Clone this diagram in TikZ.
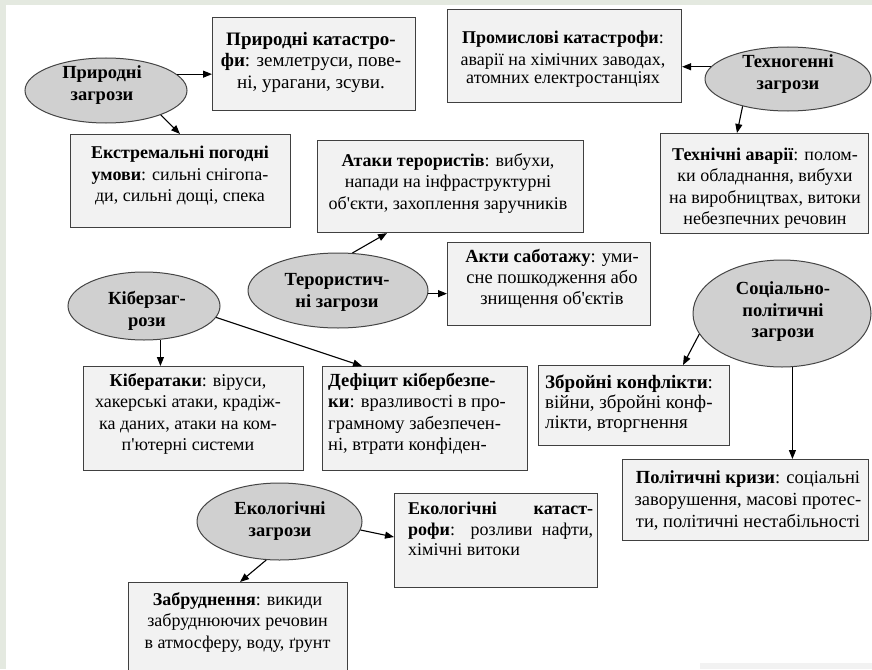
\documentclass[tikz,border=0pt]{standalone}
\usepackage{fontspec}
\setmainfont{Liberation Serif}
\usetikzlibrary{shapes.geometric,arrows.meta}
\definecolor{boxfill}{HTML}{F2F2F2}
\definecolor{boxline}{HTML}{404040}
\definecolor{ovalfill}{HTML}{D0D0D0}
\definecolor{ovalline}{HTML}{454545}
\definecolor{strip}{HTML}{E4E9E0}
\newcommand{\apos}{\textquotesingle}
\begin{document}
\begin{tikzpicture}[x=1pt,y=-1pt,
  box/.style={draw=boxline, fill=boxfill, line width=1.1pt, rectangle, inner sep=0, anchor=north west},
  oval/.style={draw=ovalline, fill=ovalfill, line width=1pt, ellipse, inner sep=0},
  txt/.style={align=center, inner sep=0, text=black, font=\fontsize{18}{21.5}\selectfont},
  otxt/.style={txt, font=\fontsize{18.5}{22}\selectfont\bfseries},
  link/.style={-{Triangle[length=9pt,width=7pt]}, line width=1.1pt, black}
]
\useasboundingbox (0,0) rectangle (872,669);
\fill[white] (0,0) rectangle (872,669);
% page frame strips
\fill[strip] (0,0) rectangle (872,5);
\fill[strip] (0,0) rectangle (6,669);
\fill[black!5] (700,663) rectangle (872,669);

% ---- natural threats
\node[oval, minimum width=162pt, minimum height=65pt] (e1) at (106,90.5) {};
\node[otxt] (l1) at (102,85) {Природні\\загрози};
\node[box, minimum width=203pt, minimum height=93pt] (b1) at (212,17) {};
\node[txt, font=\fontsize{19}{21.5}\selectfont] (t1) at (311,62) {\textbf{Природні катастро-}\\\textbf{фи}: землетруси, пове-\\ні, урагани, зсуви.};
\node[box, minimum width=220pt, minimum height=93pt] (b2) at (70,134) {};
\node[txt] (t2) at (180,176) {\textbf{Екстремальні погодні}\\\textbf{умови}: сильні снігопа-\\ди, сильні дощі, спека};

% ---- man-made threats
\node[box, minimum width=234pt, minimum height=93pt] (b3) at (447,9) {};
\node[txt] (t3) at (563,59) {\textbf{Промислові катастрофи}:\\[1pt]аварії на хімічних заводах,\\[-4pt]атомних електростанціях};
\node[oval, minimum width=166pt, minimum height=64pt] (e2) at (788,79) {};
\node[otxt] (l2) at (788,74) {Техногенні\\загрози};
\node[box, minimum width=208pt, minimum height=100pt] (b4) at (660,133) {};
\node[txt] (t4) at (765,188) {\textbf{Технічні аварії}: полом-\\ки обладнання, вибухи\\на виробництвах, витоки\\небезпечних речовин};

% ---- terrorist threats
\node[box, minimum width=266pt, minimum height=92pt] (b5) at (317,140) {};
\node[txt] (t5) at (448,183) {\textbf{Атаки терористів}: вибухи,\\напади на інфраструктурні\\об\apos єкти, захоплення заручників};
\node[oval, minimum width=180pt, minimum height=75pt] (e3) at (338,290.5) {};
\node[otxt] (l3) at (337,292) {Терористич-\\ні загрози};
\node[box, minimum width=203pt, minimum height=83pt] (b6) at (447,242) {};
\node[txt, font=\fontsize{18.5}{21}\selectfont] (t6) at (552,279) {\textbf{Акти саботажу}: уми-\\сне пошкодження або\\знищення об\apos єктів};

% ---- cyber threats
\node[oval, minimum width=152pt, minimum height=68pt] (e4) at (144,306) {};
\node[otxt] (l4) at (147,311) {Кіберзаг-\\рози};
\node[box, minimum width=220pt, minimum height=104pt] (b7) at (83,366) {};
\node[txt] (t7) at (188,414) {\textbf{Кібератаки}: віруси,\\хакерські атаки, крадіж-\\ка даних, атаки на ком-\\п\apos ютерні системи};
\node[box, minimum width=205pt, minimum height=104pt] (b8) at (322,366) {};
\node[txt, align=left, anchor=west, font=\fontsize{18.5}{21.5}\selectfont] (t8) at (328,414) {\textbf{Дефіцит кібербезпе-}\\\textbf{ки}: вразливості в про-\\грамному забезпечен-\\ні, втрати конфіден-};

% ---- socio-political threats
\node[oval, minimum width=178pt, minimum height=107pt] (e5) at (782,313.5) {};
\node[otxt, font=\fontsize{18.5}{21.5}\selectfont\bfseries] (l5) at (783,312) {Соціально-\\політичні\\загрози};
\node[box, minimum width=191pt, minimum height=80pt] (b9) at (538,365) {};
\node[txt, align=left, anchor=west, font=\fontsize{19}{20}\selectfont] (t9) at (545,404) {\textbf{Збройні конфлікти}:\\війни, збройні конф-\\лікти, вторгнення};
\node[box, minimum width=246pt, minimum height=81pt] (b10) at (622,459) {};
\node[txt, font=\fontsize{18.5}{22}\selectfont] (t10) at (748,500) {\textbf{Політичні кризи}: соціальні\\заворушення, масові протес-\\ти, політичні нестабільності};

% ---- ecological threats
\node[oval, minimum width=165pt, minimum height=77pt] (e6) at (279.5,521.5) {};
\node[otxt] (l6) at (280,521) {Екологічні\\загрози};
\node[box, minimum width=203pt, minimum height=94pt] (b11) at (394,493) {};
\node[txt, align=left, anchor=west, font=\fontsize{18}{20.5}\selectfont] (t11) at (408,529) {\hbox to 185pt{\textbf{Екологічні катаст-}}\\\hbox to 185pt{\textbf{рофи}: розливи нафти,}\\хімічні витоки};
\node[box, minimum width=219pt, minimum height=110pt] (b12) at (128,582) {};
\node[txt] (t12) at (237.5,622) {\textbf{Забруднення}: викиди\\забруднюючих речовин\\в атмосферу, воду, ґрунт};

% ---- connectors
\draw[link] (e1.13) -- (e1.13 -| b1.west);
\draw[link] (e1.-24) -- ([xshift=110pt]b2.north west);
\draw[link] (e2.171) -- (e2.171 -| b3.east);
\draw[link] (e2.211) -- ([xshift=77pt]b4.north west);
\draw[link] (e3.69) -- ([xshift=70pt]b5.south west);
\draw[link] (e3.-2) -- (e3.-2 -| b6.west);
\draw[link] (e4.-64) -- (e4.-64 |- b7.north);
\draw[link] (e4.-9) -- ([xshift=40pt]b8.north west);
\draw[link] (e5.194) -- ([xshift=145pt]b9.north west);
\draw[link] (e5.-79.4) -- (e5.-79.4 |- b10.north);
\draw[link] (e6.-6.7) -- ([yshift=-44pt]b11.north west);
\draw[link] (e6.251) -- ([xshift=112pt]b12.north west);
\end{tikzpicture}
\end{document}
